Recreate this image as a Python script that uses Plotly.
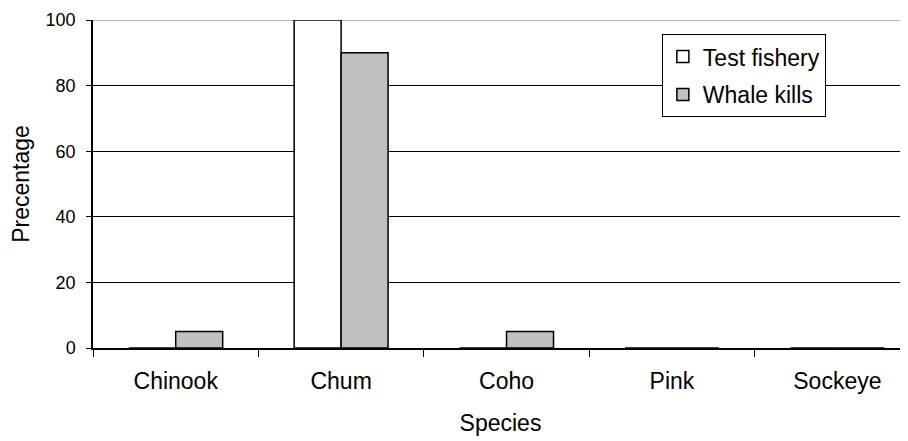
import plotly.graph_objects as go

species = ["Chinook", "Chum", "Coho", "Pink", "Sockeye"]
test_fishery = [0, 100, 0, 0, 0]
whale_kills = [5, 90, 5, 0, 0]
y_ticks = [0, 20, 40, 60, 80, 100]

FONT = "Liberation Sans, Arial, sans-serif"

fig = go.Figure()
fig.add_trace(go.Bar(
    x=species, y=test_fishery, name="Test fishery", legendgroup="a",
    marker=dict(color="#FFFFFF", line=dict(color="#000000", width=1.5)),
))
fig.add_trace(go.Bar(
    x=species, y=whale_kills, name="Whale kills", legendgroup="b",
    marker=dict(color="#C0C0C0", line=dict(color="#000000", width=1.5)),
))

fig.add_shape(type="line", xref="paper", yref="y", x0=0, x1=1, y0=100, y1=100,
              line=dict(color="#999999", width=1.5), layer="between")

fig.update_layout(
    width=900, height=433,
    margin=dict(l=85, r=0, t=12, b=93),
    paper_bgcolor="white", plot_bgcolor="white",
    barmode="group", bargap=0.432, bargroupgap=0,
    font=dict(family=FONT, color="#000000", size=23),
    showlegend=True,
    legend=dict(
        x=0.698, y=0.957, xanchor="left", yanchor="top",
        bgcolor="white", bordercolor="#000000", borderwidth=1,
        font=dict(size=23, family=FONT), traceorder="grouped", tracegroupgap=5,
    ),
    xaxis=dict(
        range=[-0.5, 4.427], type="category",
        showline=True, linecolor="#000000", linewidth=1.5,
        ticks="outside", ticklen=7, tickcolor="#000000", tickwidth=1,
        tickson="boundaries", showgrid=False,
        tickfont=dict(size=23, family=FONT), ticklabelstandoff=12,
        title=dict(text="Species", font=dict(size=23, family=FONT), standoff=22),
    ),
    yaxis=dict(
        range=[0, 100], tickvals=y_ticks,
        showline=True, linecolor="#000000", linewidth=1.5,
        ticks="outside", ticklen=5, tickcolor="#000000",
        showgrid=True, gridcolor="#000000", gridwidth=1,
        zeroline=False,
        tickfont=dict(size=18, family=FONT), ticklabelstandoff=7,
        title=dict(text="Precentage", font=dict(size=23, family=FONT), standoff=10),
    ),
)

fig.write_html("out.html")
